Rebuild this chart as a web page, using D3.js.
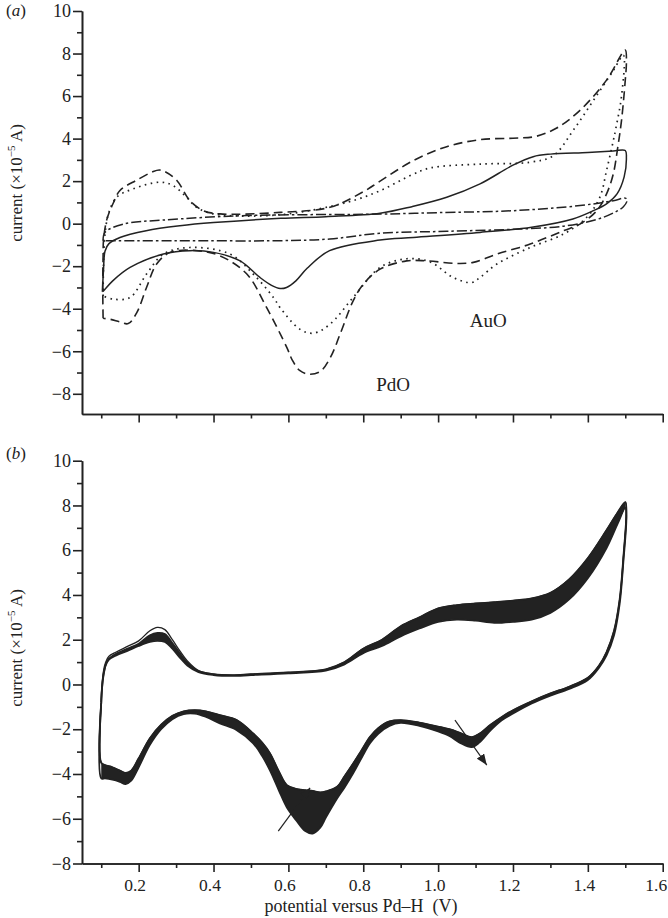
<!DOCTYPE html>
<html><head><meta charset="utf-8">
<script src="https://cdnjs.cloudflare.com/ajax/libs/d3/7.8.5/d3.min.js"></script>
<style>
body{margin:0;background:#fff}
svg{display:block}
text{font-family:"Liberation Serif","Times New Roman",serif;fill:#222}
</style>
</head><body>
<svg id="c" width="668" height="918"></svg>
<script>
// ---------- DATA (potential V, current x1e-5 A) ----------
const xMajorTicks = [0.2,0.4,0.6,0.8,1.0,1.2,1.4,1.6];
const xMinorTicks = [0.1,0.3,0.5,0.7,0.9,1.1,1.3,1.5];
const yMajorTicks = [-8,-6,-4,-2,0,2,4,6,8,10];
const yMinorTicks = [-7,-5,-3,-1,1,3,5,7,9];

// panel (a): four CVs, anodic then cathodic branch
const solidAnodic = [[0.103,-3.2],[0.106,-2.2],[0.11,-1.3],[0.12,-0.95],[0.15,-0.65],[0.22,-0.33],[0.31,-0.1],[0.4,0.05],[0.58,0.25],[0.7,0.33],[0.845,0.49],[0.93,0.8],[1.023,1.24],[1.112,1.87],[1.2,2.75],[1.254,3.15],[1.3,3.27],[1.4,3.35],[1.468,3.42],[1.5,3.44]];
const solidCathodic = [[1.503,3.1],[1.497,2.2],[1.478,1.4],[1.45,0.93],[1.415,0.61],[1.36,0.22],[1.25,-0.17],[1.112,-0.41],[0.934,-0.65],[0.845,-0.77],[0.71,-1.27],[0.65,-2.1],[0.62,-2.69],[0.595,-3.0],[0.578,-3.05],[0.555,-2.9],[0.524,-2.53],[0.471,-1.75],[0.4,-1.35],[0.337,-1.27],[0.266,-1.43],[0.177,-2.06],[0.13,-2.7],[0.106,-3.16],[0.103,-3.2]];

const dashedAnodic = [[0.105,-4.45],[0.104,-3.0],[0.105,-1.5],[0.106,-0.8],[0.115,0.2],[0.133,1.0],[0.15,1.56],[0.195,2.05],[0.239,2.45],[0.255,2.52],[0.27,2.45],[0.302,2.03],[0.337,1.08],[0.373,0.61],[0.417,0.46],[0.578,0.53],[0.711,0.77],[0.80,1.5],[0.845,2.0],[0.934,2.97],[1.023,3.62],[1.112,3.95],[1.2,4.02],[1.26,4.1],[1.317,4.5],[1.379,5.33],[1.45,6.75],[1.5,8.16]];
const dashedCathodic = [[1.503,7.6],[1.5,6.75],[1.49,4.86],[1.48,3.6],[1.468,2.34],[1.45,1.4],[1.424,0.61],[1.379,-0.02],[1.335,-0.33],[1.246,-0.96],[1.157,-1.43],[1.094,-1.82],[1.05,-1.87],[0.97,-1.75],[0.916,-1.75],[0.845,-2.14],[0.80,-2.85],[0.773,-3.63],[0.738,-5.2],[0.712,-6.3],[0.685,-6.95],[0.655,-7.08],[0.63,-6.9],[0.61,-6.4],[0.596,-5.83],[0.542,-3.95],[0.489,-2.37],[0.417,-1.51],[0.355,-1.27],[0.284,-1.35],[0.248,-1.9],[0.221,-3.0],[0.195,-4.18],[0.172,-4.7],[0.15,-4.62],[0.125,-4.5],[0.105,-4.45]];

const dottedAnodic = [[0.105,-3.4],[0.106,-2.0],[0.11,-0.5],[0.12,0.5],[0.141,1.24],[0.186,1.64],[0.257,1.95],[0.292,1.79],[0.328,1.24],[0.355,0.77],[0.4,0.46],[0.578,0.42],[0.756,1.0],[0.845,1.55],[0.93,2.3],[0.979,2.62],[1.112,2.8],[1.246,2.89],[1.308,3.2],[1.361,4.39],[1.415,5.8],[1.468,7.2],[1.495,7.92]];
const dottedCathodic = [[1.49,6.0],[1.475,4.5],[1.468,3.9],[1.45,2.5],[1.432,1.24],[1.397,0.3],[1.335,-0.49],[1.246,-1.12],[1.157,-1.9],[1.112,-2.53],[1.09,-2.77],[1.04,-2.53],[0.979,-1.8],[0.916,-1.65],[0.845,-2.06],[0.773,-3.47],[0.711,-4.73],[0.667,-5.15],[0.631,-4.97],[0.578,-3.95],[0.56,-3.47],[0.506,-2.37],[0.444,-1.43],[0.337,-1.12],[0.266,-1.43],[0.221,-2.37],[0.177,-3.47],[0.132,-3.55],[0.105,-3.4]];

const dashDotAnodic = [[0.105,-0.8],[0.11,-0.41],[0.159,-0.02],[0.266,0.17],[0.489,0.38],[0.845,0.45],[1.0,0.52],[1.2,0.61],[1.379,0.85],[1.468,1.08],[1.5,1.2]];
const dashDotCathodic = [[1.505,1.1],[1.495,0.8],[1.468,0.5],[1.424,0.2],[1.335,-0.12],[1.22,-0.25],[1.023,-0.36],[0.845,-0.45],[0.711,-0.72],[0.578,-0.8],[0.3,-0.8],[0.114,-0.8],[0.105,-0.8]];

// panel (b): repeated cycles, anodic envelope [V, band low, band high, outer (first) cycle]
const cyclesAnodic = [[0.100,-0.8,-0.8,-0.8],[0.102,-0.2,-0.15,-0.05],[0.106,0.4,0.45,0.6],[0.112,0.85,0.9,1.0],[0.120,1.1,1.15,1.25],[0.140,1.3,1.38,1.45],[0.170,1.5,1.6,1.7],[0.200,1.72,1.82,1.95],[0.230,1.9,2.2,2.4],[0.250,1.95,2.3,2.55],[0.270,1.9,2.25,2.45],[0.290,1.6,1.85,2.0],[0.310,1.2,1.4,1.5],[0.330,0.85,0.98,1.05],[0.360,0.55,0.6,0.62],[0.400,0.42,0.46,0.46],[0.450,0.38,0.42,0.42],[0.500,0.42,0.46,0.46],[0.600,0.5,0.54,0.54],[0.700,0.62,0.68,0.68],[0.750,0.9,1.0,1.0],[0.800,1.4,1.6,1.6],[0.850,1.72,2.0,2.0],[0.900,2.15,2.6,2.6],[0.950,2.5,3.0,3.0],[1.000,2.8,3.4,3.4],[1.050,2.9,3.55,3.55],[1.100,2.85,3.62,3.62],[1.150,2.75,3.68,3.68],[1.200,2.8,3.75,3.75],[1.250,2.9,3.85,3.85],[1.300,3.2,4.1,4.1],[1.350,3.8,4.7,4.7],[1.400,4.75,5.65,5.65],[1.450,6.1,6.9,6.9],[1.480,7.2,7.7,7.7],[1.500,7.9,8.15,8.15]];
// cathodic envelope [V, band low, band high]
const cyclesCathodic = [[1.503,7.5,7.8],[1.495,5.5,5.7],[1.485,3.6,3.8],[1.470,2.2,2.4],[1.450,1.3,1.45],[1.430,0.75,0.85],[1.400,0.2,0.3],[1.350,-0.2,-0.1],[1.300,-0.5,-0.4],[1.250,-0.85,-0.75],[1.200,-1.3,-1.15],[1.170,-1.6,-1.45],[1.140,-2.05,-1.8],[1.110,-2.6,-2.2],[1.090,-2.8,-2.35],[1.060,-2.62,-2.17],[1.030,-2.3,-2.0],[1.000,-2.1,-1.88],[0.950,-1.85,-1.7],[0.900,-1.72,-1.59],[0.870,-1.85,-1.65],[0.840,-2.2,-1.95],[0.818,-2.63,-2.34],[0.795,-3.3,-2.95],[0.773,-3.97,-3.53],[0.750,-4.6,-4.1],[0.730,-5.1,-4.57],[0.700,-5.95,-4.78],[0.685,-6.4,-4.82],[0.665,-6.66,-4.76],[0.645,-6.55,-4.72],[0.620,-6.05,-4.66],[0.596,-5.5,-4.5],[0.575,-4.75,-3.9],[0.551,-3.85,-3.08],[0.530,-3.2,-2.6],[0.506,-2.63,-2.19],[0.462,-2.04,-1.59],[0.417,-1.74,-1.37],[0.380,-1.45,-1.2],[0.350,-1.3,-1.15],[0.320,-1.32,-1.2],[0.290,-1.55,-1.4],[0.260,-2.0,-1.8],[0.230,-2.7,-2.4],[0.200,-3.7,-3.3],[0.180,-4.3,-3.85],[0.165,-4.45,-3.95],[0.150,-4.35,-3.85],[0.130,-4.25,-3.7],[0.110,-4.2,-3.6],[0.100,-4.2,-3.5]];

const arrowsB = [[[0.573,-6.55],[0.658,-4.62]],[[1.045,-1.59],[1.13,-3.6]]];
const labelsA = [{t:"PdO",v:0.88,i:-7.85},{t:"AuO",v:1.134,i:-4.85}];

// ---------- DRAW ----------
const svg = d3.select('#c');
const ink = '#222';
const x = d3.scaleLinear().domain([0.0486,1.6]).range([82,662.7]);
const yA = d3.scaleLinear().domain([-8.95,10]).range([414,11]);
const yB = d3.scaleLinear().domain([-8,10]).range([863.5,460.7]);
const fmtY = d => d < 0 ? '\u2212' + Math.abs(d) : String(d);

function styleAxis(g, fs){
  g.selectAll('path,line').attr('stroke',ink).attr('stroke-width',1.6);
  g.selectAll('text').style('font-size',(fs||18)+'px').attr('fill',ink)
   .style('font-family','"Liberation Serif","Times New Roman",serif');
}
function axes(y, yAxisY, showX){
  svg.append('g').attr('transform','translate(82,0)')
    .call(d3.axisLeft(y).tickValues(yMajorTicks).tickSize(9).tickSizeOuter(0).tickPadding(2).tickFormat(fmtY))
    .call(g=>styleAxis(g,18));
  svg.append('g').attr('transform','translate(82,0)')
    .call(d3.axisLeft(y).tickValues(yMinorTicks).tickSize(5).tickSizeOuter(0).tickFormat(''))
    .call(g=>styleAxis(g));
  const gx = svg.append('g').attr('transform',`translate(0,${yAxisY})`)
    .call(d3.axisBottom(x).tickValues(xMajorTicks).tickSize(8.5).tickSizeOuter(0).tickPadding(7)
      .tickFormat(showX ? d3.format('.1f') : ''))
    .call(g=>styleAxis(g,17.5));
  gx.selectAll('text').attr('dx', d => d >= 1.6 ? -7 : -4);
  svg.append('g').attr('transform',`translate(0,${yAxisY})`)
    .call(d3.axisBottom(x).tickValues(xMinorTicks).tickSize(4.5).tickSizeOuter(0).tickFormat(''))
    .call(g=>styleAxis(g));
}
axes(yA, yA(-8.95), false);
axes(yB, yB(-8), true);

const cr = d3.curveCatmullRom.alpha(0.5);
const lineA = d3.line().x(d=>x(d[0])).y(d=>yA(d[1])).curve(cr);
const seriesA = [
  {a:solidAnodic, c:solidCathodic, dash:null, w:1.5},
  {a:dashedAnodic, c:dashedCathodic, dash:'9,5', w:1.6},
  {a:dottedAnodic, c:dottedCathodic, dash:'1.6,4.4', w:1.7},
  {a:dashDotAnodic, c:dashDotCathodic, dash:'10,3,2.5,3', w:1.5}
];
seriesA.forEach(s=>{
  svg.append('path').attr('d', lineA(s.a.concat(s.c)))
    .attr('fill','none').attr('stroke',ink).attr('stroke-width',s.w)
    .attr('stroke-dasharray',s.dash);
});
labelsA.forEach(l=>{
  svg.append('text').attr('x',x(l.v)).attr('y',yA(l.i)).attr('text-anchor','middle')
    .style('font-size','19px').text(l.t);
});

// panel (b) band of cycles
const areaB = d3.area().x(d=>x(d[0])).y0(d=>yB(d[1])).y1(d=>yB(d[2])).curve(cr);
[cyclesAnodic, cyclesCathodic].forEach(b=>{
  svg.append('path').attr('d',areaB(b)).attr('fill',ink).attr('stroke','none');
});
const lineB = d3.line().x(d=>x(d[0])).y(d=>yB(d[1])).curve(cr);
[[1,1],[2,2],[3,2]].forEach(([ka,kc])=>{
  const pts = cyclesAnodic.map(d=>[d[0],d[ka]]).concat(cyclesCathodic.map(d=>[d[0],d[kc]]));
  pts.push([cyclesAnodic[0][0], cyclesAnodic[0][ka]]);
  svg.append('path').attr('d',lineB(pts)).attr('fill','none').attr('stroke',ink)
    .attr('stroke-width', ka===3 ? 1.3 : 1.8);
});

// arrows
svg.append('defs').append('marker').attr('id','ah').attr('markerUnits','userSpaceOnUse')
  .attr('markerWidth',12).attr('markerHeight',9).attr('refX',11).attr('refY',4.5).attr('orient','auto')
  .append('path').attr('d','M0,0 L11,4.5 L0,9 Z').attr('fill',ink);
arrowsB.forEach(a=>{
  svg.append('line').attr('x1',x(a[0][0])).attr('y1',yB(a[0][1]))
    .attr('x2',x(a[1][0])).attr('y2',yB(a[1][1]))
    .attr('stroke',ink).attr('stroke-width',1.2).attr('marker-end','url(#ah)');
});

// titles
function yTitle(cy){
  const t = svg.append('text').attr('transform',`translate(22,${cy}) rotate(-90)`)
    .attr('text-anchor','middle').style('font-size','17px');
  t.append('tspan').text('current (\u00d710');
  t.append('tspan').attr('dy',-7).style('font-size','11px').text('\u22125');
  t.append('tspan').attr('dy',7).text('\u2009A)');
}
yTitle(183); yTitle(648);
svg.append('text').attr('x',361).attr('y',912).attr('text-anchor','middle')
  .style('font-size','18px').text('potential versus Pd\u2013H\u00a0 (V)');
function panelLabel(ch, yy){
  const t = svg.append('text').attr('x',6).attr('y',yy).style('font-size','17px');
  t.append('tspan').text('(');
  t.append('tspan').style('font-style','italic').text(ch);
  t.append('tspan').text(')');
}
panelLabel('a',16); panelLabel('b',459);
</script>
</body></html>
